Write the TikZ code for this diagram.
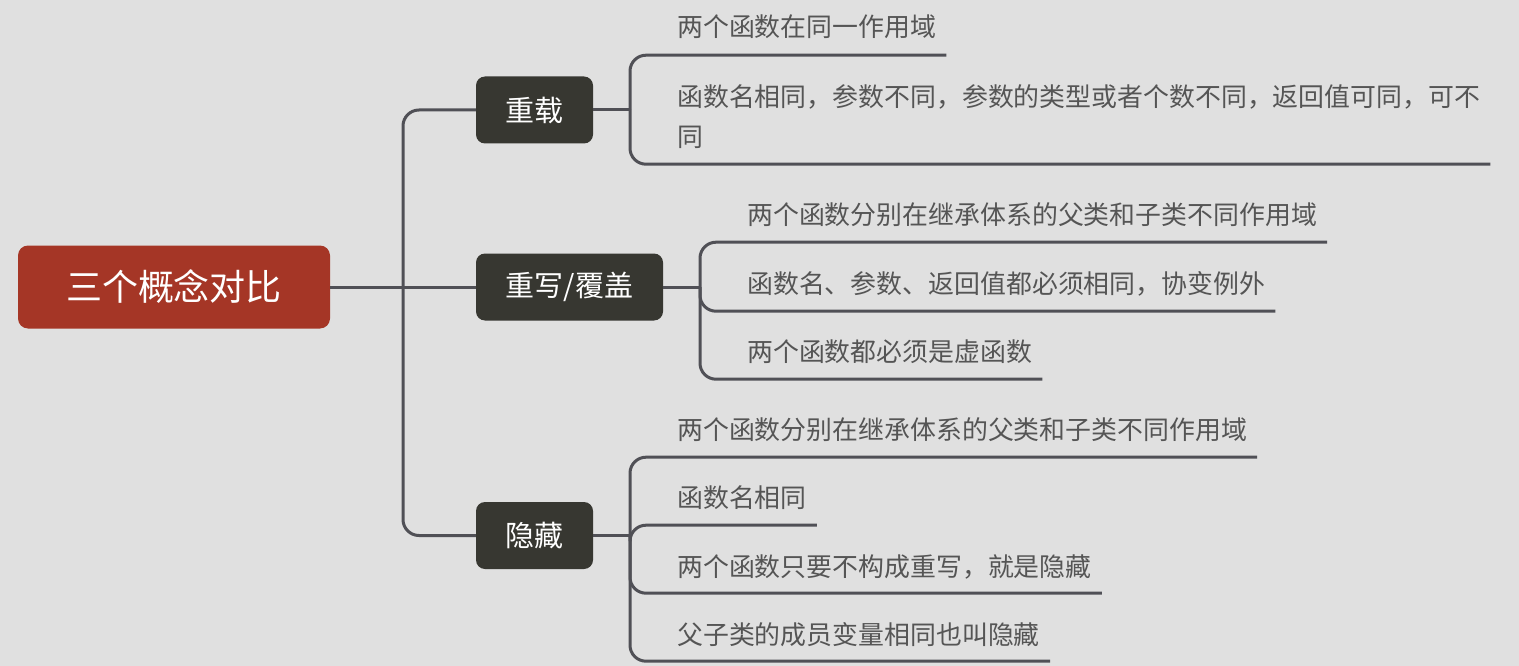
\documentclass[tikz,border=0pt]{standalone}
\usepackage{fontspec}
\setmainfont{Noto Sans CJK SC}
\definecolor{colFondo}{HTML}{E0E0E0}
\definecolor{colRaiz}{HTML}{A53626}
\definecolor{colRama}{HTML}{373731}
\definecolor{colLinea}{HTML}{505056}
\definecolor{colTexto}{HTML}{555555}
\begin{document}
\begin{tikzpicture}[x=1pt, y=-1pt,
    raiz/.style={fill=colRaiz, text=white, rounded corners=10pt, minimum width=312pt,
      minimum height=83pt, inner sep=0pt, font=\fontsize{36}{40}\selectfont},
    rama/.style={fill=colRama, text=white, rounded corners=9pt, minimum height=67pt,
      inner sep=0pt, font=\fontsize{29}{33}\selectfont},
    hoja/.style={anchor=west, text=colTexto, inner xsep=10pt, inner ysep=0pt, align=left,
      font=\fontsize{25.9}{40}\selectfont},
    enlace/.style={draw=colLinea, line width=3pt},
    curva/.style={enlace, rounded corners=16pt}]
  % Fondo
  \fill[colFondo] (0,0) rectangle (1519,666);
  \useasboundingbox (0,0) rectangle (1519,666);
  % Raiz y ramas
  \node[raiz] (raiz) at (174,287) {三个概念对比};
  \node[rama, minimum width=117pt] (b1) at (534.5,110) {重载};
  \node[rama, minimum width=187pt] (b2) at (569.5,287) {重写/覆盖};
  \node[rama, minimum width=117pt] (b3) at (534.5,535.5) {隐藏};
  % Hojas de 重载
  \node[hoja, minimum height=56pt] (h11) at (667,27) {两个函数在同一作用域};
  \node[hoja, minimum height=94pt] (h12) at (667,117)
    {函数名相同，参数不同，参数的类型或者个数不同，返回值可同，可不\\同};
  % Hojas de 重写/覆盖
  \node[hoja, minimum height=54pt] (h21) at (737,215) {两个函数分别在继承体系的父类和子类不同作用域};
  \node[hoja, minimum height=54pt] (h22) at (737,284) {函数名、参数、返回值都必须相同，协变例外};
  \node[hoja, minimum height=54pt] (h23) at (737,352) {两个函数都必须是虚函数};
  % Hojas de 隐藏
  \node[hoja, minimum height=54pt] (h31) at (667,430) {两个函数分别在继承体系的父类和子类不同作用域};
  \node[hoja, minimum height=54pt] (h32) at (667,498) {函数名相同};
  \node[hoja, minimum height=52pt] (h33) at (667,567) {两个函数只要不构成重写，就是隐藏};
  \node[hoja, minimum height=52pt] (h34) at (667,635) {父子类的成员变量相同也叫隐藏};
  % Troncos
  \coordinate (t0) at (403,287);
  \coordinate (t1) at (630,110);
  \coordinate (t2) at (700,287);
  \coordinate (t3) at (630,535.5);
  % Enlaces
  \draw[enlace] (raiz.east) -- (t0) -- (b2.west);
  \draw[curva] (t0) |- (b1.west);
  \draw[curva] (t0) |- (b3.west);
  \draw[enlace] (b1.east) -- (t1);
  \draw[curva] (t1) |- (h11.south east);
  \draw[curva] (t1) |- (h12.south east);
  \draw[enlace] (b2.east) -- (t2);
  \draw[curva] (t2) |- (h21.south east);
  \draw[curva] (t2) |- (h22.south east);
  \draw[curva] (t2) |- (h23.south east);
  \draw[enlace] (b3.east) -- (t3);
  \draw[curva] (t3) |- (h31.south east);
  \draw[curva] (t3) |- (h32.south east);
  \draw[curva] (t3) |- (h33.south east);
  \draw[curva] (t3) |- (h34.south east);
\end{tikzpicture}
\end{document}
